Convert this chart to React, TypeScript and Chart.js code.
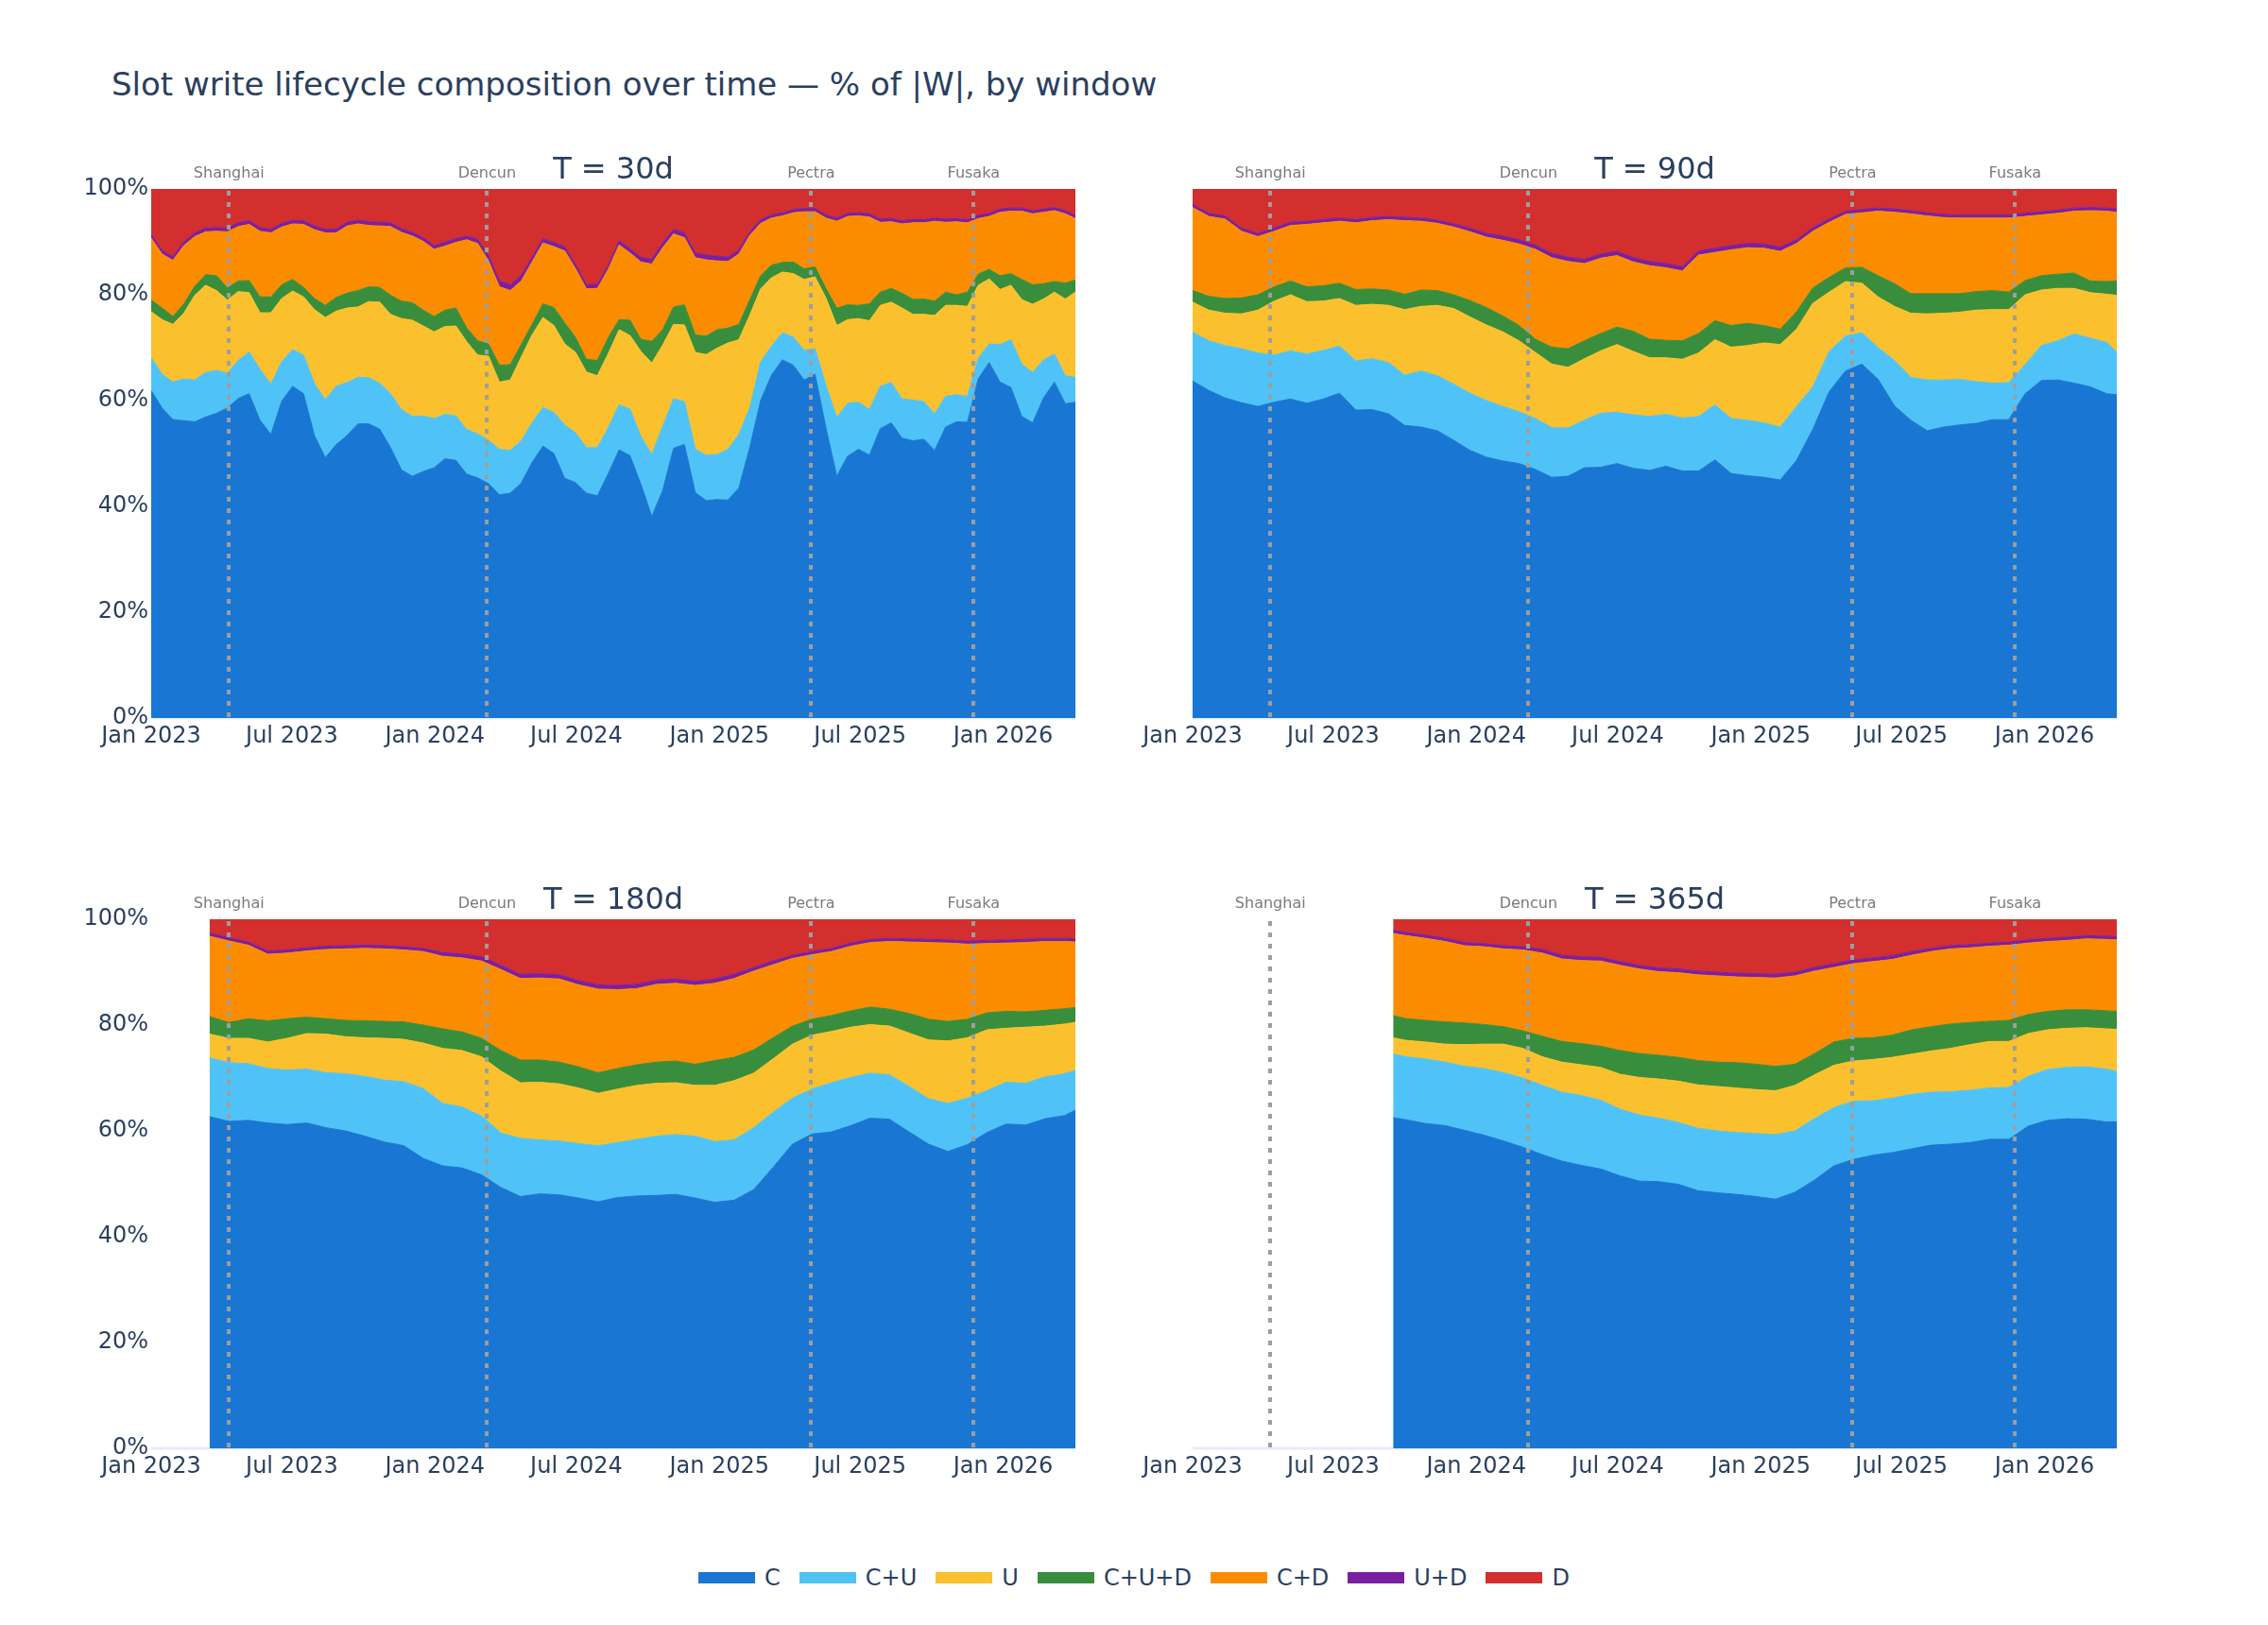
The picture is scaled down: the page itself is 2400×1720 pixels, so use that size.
import React, { useEffect, useRef } from "react";
import { Chart, registerables } from "chart.js";

Chart.register(...registerables);

const FONT = '"DejaVu Sans", sans-serif';
const TEXT = "#2a3f5f";

const SERIES = ["C", "C+U", "U", "C+U+D", "C+D", "U+D", "D"];
const COLORS = ["#1976D2", "#4FC3F7", "#FBC02D", "#388E3C", "#FB8C00", "#7B1FA2", "#D32F2F"];

// x positions are days since 2023-01-01
const X_MAX = 1189;
const TICK_DAYS = [0, 181, 365, 547, 731, 912, 1096];
const TICK_LABELS = ["Jan 2023", "Jul 2023", "Jan 2024", "Jul 2024", "Jan 2025", "Jul 2025", "Jan 2026"];
const EVENT_DAYS = [100, 432, 849, 1058];
const EVENT_NAMES = ["Shanghai", "Dencun", "Pectra", "Fusaka"];

// ---- T = 30d (shares in % of |W|) ----
const DAYS_30 = [0, 14, 28, 42, 56, 70, 84, 98, 112, 126, 140, 154, 168, 182, 196, 210, 224, 238, 252, 266, 280, 294, 308, 322, 336, 350, 364, 378, 392, 406, 420, 434, 448, 462, 476, 490, 504, 518, 532, 546, 560, 574, 588, 602, 616, 630, 644, 658, 672, 686, 700, 714, 728, 742, 756, 770, 784, 798, 812, 826, 840, 854, 868, 882, 896, 910, 924, 938, 952, 966, 980, 994, 1008, 1022, 1036, 1050, 1064, 1078, 1092, 1106, 1120, 1134, 1148, 1162, 1176, 1189];
const C_30 = [61.9, 58.6, 56.4, 56.2, 56.0, 56.9, 57.6, 58.6, 60.4, 61.3, 56.3, 53.6, 59.9, 62.7, 61.3, 53.4, 49.2, 51.7, 53.4, 55.6, 55.6, 54.6, 51.1, 46.9, 45.7, 46.6, 47.3, 49.0, 48.7, 46.1, 45.4, 44.3, 42.2, 42.5, 44.4, 48.3, 51.4, 50.0, 45.3, 44.5, 42.5, 42.0, 46.2, 50.7, 49.6, 44.2, 38.1, 43.0, 51.0, 51.7, 42.6, 41.1, 41.3, 41.2, 43.5, 51.1, 60.0, 64.8, 67.7, 66.7, 63.9, 65.0, 54.9, 45.7, 49.5, 50.8, 49.7, 54.7, 55.8, 52.9, 52.4, 52.7, 50.6, 55.0, 56.0, 55.9, 64.1, 67.2, 63.5, 62.5, 57.0, 55.8, 60.5, 63.5, 59.4, 59.7];
const CU_30 = [6.2, 6.4, 7.1, 7.9, 7.9, 8.4, 8.1, 6.6, 7.2, 7.9, 9.6, 9.5, 7.5, 6.9, 7.3, 9.8, 11.0, 11.0, 10.0, 8.8, 8.7, 8.7, 10.2, 11.4, 11.3, 10.5, 9.3, 8.4, 8.4, 8.4, 8.3, 8.2, 8.6, 8.1, 8.0, 7.5, 7.3, 7.8, 10.1, 9.4, 8.6, 9.1, 8.7, 8.5, 8.8, 9.0, 11.7, 12.1, 9.3, 8.1, 8.2, 8.6, 8.5, 9.6, 10.1, 7.5, 7.3, 5.5, 5.1, 5.3, 5.6, 4.8, 8.0, 11.1, 10.0, 8.9, 8.6, 8.0, 7.6, 7.4, 7.7, 7.1, 6.9, 5.8, 5.1, 4.9, 3.9, 3.5, 7.1, 9.0, 9.9, 9.5, 7.2, 5.3, 5.3, 4.7];
const U_30 = [8.7, 10.3, 10.9, 12.4, 16.0, 16.5, 15.1, 13.8, 13.0, 11.2, 10.7, 13.5, 11.9, 11.1, 11.0, 14.0, 15.5, 14.2, 14.1, 13.3, 14.4, 15.3, 15.0, 17.2, 18.2, 17.0, 16.4, 16.6, 17.0, 16.6, 14.9, 15.9, 12.7, 13.3, 15.8, 16.6, 17.0, 16.4, 15.3, 15.2, 14.3, 13.6, 14.0, 14.2, 13.9, 16.1, 17.3, 15.4, 14.1, 14.5, 18.3, 19.0, 20.1, 20.1, 17.9, 17.5, 13.8, 12.9, 11.5, 12.0, 13.4, 13.6, 16.5, 17.4, 15.8, 15.8, 16.8, 15.3, 15.2, 17.2, 16.2, 16.5, 18.6, 17.2, 16.9, 17.0, 13.8, 12.3, 10.4, 10.3, 12.2, 12.9, 11.5, 11.7, 14.5, 16.1];
const CUD_30 = [2.2, 2.2, 1.5, 1.8, 1.7, 2.0, 2.8, 2.3, 2.0, 2.3, 3.0, 3.0, 2.6, 2.2, 1.8, 2.1, 2.3, 2.6, 2.8, 3.1, 2.8, 2.8, 3.6, 3.3, 3.3, 3.0, 2.9, 3.1, 3.4, 2.6, 2.7, 2.3, 3.2, 2.9, 2.4, 2.0, 2.6, 3.4, 4.0, 2.8, 2.4, 2.9, 3.0, 1.9, 2.9, 2.3, 4.1, 2.9, 3.3, 3.8, 3.3, 3.5, 3.5, 2.8, 2.9, 2.9, 2.5, 2.4, 1.8, 2.2, 2.0, 1.9, 1.8, 3.3, 2.8, 2.5, 3.2, 2.5, 2.6, 2.8, 2.8, 2.9, 2.7, 2.5, 2.0, 2.7, 2.1, 1.8, 2.6, 2.2, 3.8, 3.7, 2.9, 2.0, 3.0, 2.3];
const CD_30 = [11.7, 10.2, 10.6, 11.0, 9.4, 8.1, 8.4, 10.6, 10.3, 10.6, 12.4, 12.1, 10.9, 10.5, 11.9, 13.0, 13.7, 12.2, 12.7, 12.6, 11.6, 11.6, 13.0, 13.0, 12.6, 13.0, 12.7, 12.1, 12.4, 16.7, 18.4, 15.7, 14.8, 14.0, 12.0, 11.8, 11.5, 11.5, 13.6, 13.0, 13.3, 13.6, 12.9, 14.1, 12.7, 14.6, 14.6, 15.5, 13.8, 12.7, 14.6, 14.4, 13.0, 12.6, 13.3, 12.2, 9.9, 8.9, 8.8, 9.3, 10.8, 10.4, 13.3, 16.4, 16.7, 16.9, 16.4, 13.2, 12.6, 13.1, 14.5, 14.4, 15.1, 13.2, 13.8, 13.1, 10.5, 10.0, 12.0, 11.8, 12.9, 13.4, 13.5, 13.4, 13.1, 11.6];
const UD_30 = [0.7, 0.7, 0.7, 0.7, 0.7, 0.7, 0.7, 0.7, 0.7, 0.7, 0.7, 0.7, 0.7, 0.7, 0.7, 0.7, 0.7, 0.7, 0.7, 0.7, 0.7, 0.7, 0.7, 0.7, 0.7, 0.7, 0.7, 0.7, 0.7, 0.7, 0.8, 1.0, 1.1, 1.1, 1.0, 0.9, 0.8, 0.8, 0.8, 0.8, 0.8, 0.8, 0.8, 0.8, 0.8, 0.9, 0.9, 0.9, 0.9, 0.9, 0.9, 0.9, 0.9, 0.8, 0.8, 0.7, 0.7, 0.6, 0.6, 0.6, 0.6, 0.6, 0.6, 0.6, 0.6, 0.6, 0.6, 0.6, 0.6, 0.6, 0.6, 0.6, 0.6, 0.6, 0.6, 0.6, 0.6, 0.6, 0.6, 0.6, 0.6, 0.6, 0.6, 0.6, 0.6, 0.6];
const D_30 = [8.6, 11.6, 12.8, 10.0, 8.3, 7.4, 7.3, 7.4, 6.4, 6.0, 7.3, 7.6, 6.5, 5.9, 6.0, 7.0, 7.6, 7.6, 6.3, 5.9, 6.2, 6.3, 6.4, 7.5, 8.2, 9.2, 10.7, 10.1, 9.4, 8.9, 9.5, 12.6, 17.4, 18.1, 16.4, 12.9, 9.4, 10.1, 10.9, 14.3, 18.1, 18.0, 14.4, 9.8, 11.3, 12.9, 13.3, 10.2, 7.6, 8.3, 12.1, 12.5, 12.7, 12.9, 11.5, 8.1, 5.8, 4.9, 4.5, 3.9, 3.7, 3.7, 4.9, 5.5, 4.6, 4.5, 4.7, 5.7, 5.6, 6.0, 5.8, 5.8, 5.5, 5.7, 5.6, 5.8, 5.0, 4.6, 3.8, 3.6, 3.6, 4.1, 3.8, 3.5, 4.1, 5.0];

// ---- T = 90d ----
const DAYS_90 = [0, 21, 42, 63, 84, 105, 126, 147, 168, 189, 210, 231, 252, 273, 294, 315, 336, 357, 378, 399, 420, 441, 462, 483, 504, 525, 546, 567, 588, 609, 630, 651, 672, 693, 714, 735, 756, 777, 798, 819, 840, 861, 882, 903, 924, 945, 966, 987, 1008, 1029, 1050, 1071, 1092, 1113, 1134, 1155, 1176, 1189];
const C_90 = [63.7, 61.9, 60.5, 59.6, 58.9, 59.7, 60.3, 59.5, 60.3, 61.4, 58.2, 58.3, 57.5, 55.3, 55.0, 54.3, 52.5, 50.6, 49.3, 48.6, 48.1, 47.0, 45.5, 45.7, 47.3, 47.4, 48.1, 47.2, 46.8, 47.6, 46.7, 46.7, 48.8, 46.2, 45.8, 45.5, 45.0, 48.7, 54.6, 61.7, 65.6, 66.9, 64.0, 59.0, 56.3, 54.3, 55.0, 55.4, 55.7, 56.4, 56.4, 61.3, 63.8, 63.9, 63.3, 62.6, 61.3, 61.1];
const CU_90 = [9.2, 9.4, 9.9, 10.2, 10.1, 8.9, 9.1, 9.3, 9.2, 8.9, 9.3, 9.6, 9.7, 9.5, 10.6, 10.4, 10.6, 10.8, 10.7, 10.3, 9.8, 9.6, 9.4, 9.1, 9.0, 10.2, 9.7, 10.1, 10.2, 9.8, 10.0, 10.3, 10.4, 10.4, 10.5, 10.3, 10.0, 10.2, 8.0, 7.6, 6.6, 5.9, 6.0, 8.6, 8.1, 9.6, 8.9, 8.6, 7.9, 6.9, 7.0, 5.5, 6.6, 7.4, 9.3, 9.2, 9.7, 8.0];
const U_90 = [5.7, 5.8, 6.1, 6.6, 8.1, 10.2, 10.6, 9.9, 9.3, 9.0, 10.5, 10.3, 10.8, 12.4, 12.2, 13.3, 14.3, 14.4, 14.3, 14.1, 13.4, 12.5, 12.0, 11.5, 11.6, 11.8, 12.8, 12.0, 11.1, 10.7, 11.1, 12.0, 12.3, 13.5, 14.1, 15.1, 15.6, 14.6, 15.8, 11.2, 10.3, 9.4, 9.6, 10.2, 12.1, 12.5, 12.6, 12.7, 13.5, 13.9, 13.8, 13.2, 10.5, 9.9, 8.6, 8.6, 9.1, 10.8];
const CUD_90 = [2.2, 2.6, 2.8, 3.0, 2.9, 2.7, 2.6, 2.8, 2.9, 2.9, 3.0, 2.9, 2.9, 2.9, 3.1, 2.8, 2.6, 3.1, 3.3, 3.0, 2.9, 2.5, 3.2, 3.5, 3.4, 3.3, 3.3, 3.8, 3.5, 3.3, 3.5, 3.7, 3.6, 4.1, 4.2, 3.3, 2.9, 3.3, 2.9, 2.8, 2.6, 3.0, 4.0, 4.3, 3.7, 3.8, 3.7, 3.5, 3.5, 3.6, 3.3, 2.7, 2.7, 2.7, 2.9, 2.2, 2.4, 2.7];
const CD_90 = [15.7, 15.1, 15.0, 12.6, 11.0, 10.5, 10.5, 11.8, 11.9, 11.7, 12.6, 12.9, 13.3, 13.9, 13.0, 12.7, 12.8, 13.0, 13.3, 14.3, 15.4, 17.0, 16.9, 16.5, 14.6, 14.2, 13.5, 13.1, 13.9, 13.7, 13.2, 14.8, 12.9, 14.3, 14.3, 14.6, 14.7, 12.9, 10.7, 10.4, 10.1, 10.3, 12.2, 13.5, 15.1, 14.7, 14.4, 14.3, 13.9, 13.7, 14.0, 12.1, 11.5, 11.5, 11.7, 13.3, 13.3, 13.0];
const UD_90 = [0.6, 0.6, 0.6, 0.6, 0.6, 0.6, 0.6, 0.6, 0.6, 0.6, 0.6, 0.6, 0.6, 0.6, 0.6, 0.6, 0.6, 0.7, 0.7, 0.8, 0.8, 0.8, 0.8, 0.8, 0.8, 0.8, 0.8, 0.8, 0.8, 0.8, 0.8, 0.8, 0.8, 0.8, 0.8, 0.8, 0.8, 0.7, 0.7, 0.6, 0.6, 0.6, 0.6, 0.6, 0.6, 0.6, 0.6, 0.6, 0.6, 0.6, 0.6, 0.6, 0.6, 0.6, 0.6, 0.6, 0.6, 0.6];
const D_90 = [2.9, 4.6, 5.1, 7.4, 8.4, 7.4, 6.3, 6.1, 5.8, 5.5, 5.8, 5.4, 5.2, 5.4, 5.5, 5.9, 6.6, 7.4, 8.4, 8.9, 9.6, 10.6, 12.2, 12.9, 13.3, 12.3, 11.8, 13.0, 13.7, 14.1, 14.7, 11.7, 11.2, 10.7, 10.3, 10.4, 11.0, 9.6, 7.3, 5.7, 4.2, 3.9, 3.6, 3.8, 4.1, 4.5, 4.8, 4.9, 4.9, 4.9, 4.9, 4.6, 4.3, 4.0, 3.6, 3.5, 3.6, 3.8];

// ---- T = 180d ----
const DAYS_180 = [75, 100, 125, 150, 175, 200, 225, 250, 275, 300, 325, 350, 375, 400, 425, 450, 475, 500, 525, 550, 575, 600, 625, 650, 675, 700, 725, 750, 775, 800, 825, 850, 875, 900, 925, 950, 975, 1000, 1025, 1050, 1075, 1100, 1125, 1150, 1175, 1189];
const C_180 = [62.7, 61.8, 62.0, 61.5, 61.2, 61.5, 60.6, 60.0, 59.0, 57.9, 57.2, 54.8, 53.4, 53.0, 51.7, 49.3, 47.6, 48.1, 47.9, 47.3, 46.6, 47.4, 47.7, 47.8, 48.0, 47.3, 46.5, 46.9, 48.9, 53.1, 57.5, 59.4, 59.8, 61.0, 62.4, 62.2, 59.8, 57.5, 56.1, 57.4, 59.7, 61.3, 61.1, 62.3, 62.9, 63.9];
const CU_180 = [11.1, 11.1, 10.7, 10.3, 10.3, 10.2, 10.4, 10.8, 11.3, 11.7, 12.1, 13.2, 11.8, 11.5, 11.1, 10.3, 11.0, 10.2, 10.2, 10.3, 10.6, 10.4, 10.7, 11.2, 11.3, 11.7, 11.5, 11.4, 11.7, 10.4, 8.7, 8.5, 9.3, 9.1, 8.5, 8.4, 8.6, 8.6, 9.1, 8.8, 7.9, 7.9, 7.9, 7.9, 7.9, 7.5];
const U_180 = [4.5, 4.6, 4.8, 5.0, 6.0, 6.7, 7.3, 7.0, 7.3, 7.9, 8.0, 8.6, 10.4, 10.7, 11.2, 11.7, 10.5, 10.9, 10.8, 10.5, 9.9, 10.1, 10.2, 10.0, 9.8, 9.6, 10.6, 11.2, 10.3, 10.1, 10.2, 10.2, 9.7, 9.5, 9.2, 9.2, 10.1, 11.1, 11.8, 11.4, 11.5, 10.2, 10.6, 9.6, 9.4, 9.1];
const CUD_180 = [3.3, 3.0, 3.7, 4.0, 3.7, 3.1, 2.9, 3.1, 3.2, 3.2, 3.3, 3.4, 3.7, 3.5, 3.5, 3.9, 4.3, 4.2, 4.1, 4.0, 3.9, 3.9, 3.9, 4.0, 4.1, 4.0, 4.7, 4.4, 4.4, 4.0, 3.4, 3.0, 3.0, 3.1, 3.3, 3.2, 3.7, 3.9, 3.7, 3.5, 3.2, 3.2, 2.9, 3.0, 2.9, 2.8];
const CD_180 = [15.2, 15.4, 13.9, 12.6, 12.4, 12.5, 13.1, 13.5, 13.7, 13.7, 13.6, 13.9, 13.7, 14.0, 14.6, 15.3, 15.4, 15.5, 15.7, 15.5, 15.8, 14.9, 14.4, 14.7, 14.7, 14.9, 14.6, 14.9, 14.9, 13.8, 12.8, 12.2, 12.1, 12.2, 12.2, 12.8, 13.5, 14.5, 14.8, 14.2, 13.1, 12.9, 13.1, 13.0, 12.7, 12.4];
const UD_180 = [0.6, 0.6, 0.6, 0.6, 0.6, 0.6, 0.6, 0.6, 0.6, 0.6, 0.6, 0.6, 0.7, 0.7, 0.8, 0.8, 0.8, 0.8, 0.8, 0.8, 0.8, 0.8, 0.8, 0.8, 0.8, 0.8, 0.8, 0.8, 0.7, 0.7, 0.6, 0.6, 0.6, 0.6, 0.6, 0.6, 0.6, 0.6, 0.6, 0.6, 0.6, 0.6, 0.6, 0.6, 0.6, 0.6];
const D_180 = [2.6, 3.5, 4.3, 6.0, 5.8, 5.4, 5.1, 5.0, 4.9, 5.0, 5.2, 5.5, 6.3, 6.6, 7.1, 8.7, 10.4, 10.3, 10.5, 11.6, 12.4, 12.5, 12.3, 11.5, 11.3, 11.7, 11.3, 10.4, 9.1, 7.9, 6.8, 6.1, 5.5, 4.5, 3.8, 3.6, 3.7, 3.8, 3.9, 4.1, 4.0, 3.9, 3.8, 3.6, 3.6, 3.7];

// ---- T = 365d ----
const DAYS_365 = [258, 275, 300, 325, 350, 375, 400, 425, 450, 475, 500, 525, 550, 575, 600, 625, 650, 675, 700, 725, 750, 775, 800, 825, 850, 875, 900, 925, 950, 975, 1000, 1025, 1050, 1075, 1100, 1125, 1150, 1175, 1189];
const C_365 = [62.5, 62.1, 61.4, 61.0, 60.1, 59.2, 58.1, 56.9, 55.5, 54.3, 53.5, 52.8, 51.5, 50.5, 50.4, 49.9, 48.7, 48.3, 48.0, 47.6, 47.1, 48.4, 50.7, 53.4, 54.6, 55.4, 55.9, 56.6, 57.3, 57.5, 57.8, 58.4, 58.4, 60.9, 62.0, 62.3, 62.2, 61.7, 61.7];
const CU_365 = [12.0, 11.9, 12.2, 12.0, 12.1, 12.6, 12.9, 13.1, 13.1, 13.0, 13.2, 13.0, 12.6, 12.5, 12.0, 11.7, 11.8, 11.7, 11.7, 11.9, 12.2, 11.6, 11.6, 11.0, 11.0, 10.3, 10.3, 10.3, 10.0, 9.9, 9.9, 9.7, 9.8, 9.4, 9.6, 9.7, 9.9, 10.0, 9.5];
const U_365 = [3.1, 3.1, 3.2, 3.4, 4.1, 4.6, 5.4, 5.6, 5.4, 5.7, 5.8, 6.2, 6.6, 7.1, 7.4, 7.8, 8.2, 8.4, 8.4, 8.3, 8.3, 8.6, 8.3, 8.0, 7.6, 7.8, 7.7, 7.6, 7.8, 8.2, 8.6, 8.8, 8.7, 8.1, 7.5, 7.4, 7.4, 7.6, 8.0];
const CUD_365 = [4.2, 4.1, 4.1, 4.2, 4.1, 3.7, 3.3, 3.3, 3.9, 3.9, 4.0, 4.0, 4.5, 4.5, 4.5, 4.5, 4.6, 4.6, 4.8, 4.8, 4.6, 4.0, 4.0, 4.4, 4.3, 4.1, 4.2, 4.6, 4.6, 4.6, 4.2, 3.8, 4.0, 3.6, 3.5, 3.5, 3.4, 3.4, 3.4];
const CD_365 = [15.5, 15.7, 15.5, 15.2, 14.6, 14.7, 14.7, 15.3, 15.7, 15.6, 15.7, 16.1, 16.1, 16.0, 15.8, 16.0, 16.2, 16.3, 16.2, 16.4, 16.7, 16.7, 15.6, 14.1, 14.1, 14.4, 14.3, 14.1, 14.2, 14.2, 14.1, 14.2, 14.2, 13.5, 13.2, 13.1, 13.4, 13.5, 13.5];
const UD_365 = [0.6, 0.6, 0.6, 0.6, 0.6, 0.6, 0.6, 0.6, 0.7, 0.7, 0.7, 0.7, 0.7, 0.7, 0.7, 0.7, 0.7, 0.7, 0.7, 0.7, 0.7, 0.7, 0.7, 0.7, 0.7, 0.7, 0.7, 0.7, 0.6, 0.6, 0.6, 0.6, 0.6, 0.6, 0.6, 0.6, 0.6, 0.6, 0.6];
const D_365 = [2.1, 2.5, 3.0, 3.6, 4.4, 4.6, 5.0, 5.2, 5.7, 6.8, 7.1, 7.2, 8.0, 8.7, 9.2, 9.4, 9.8, 10.0, 10.2, 10.3, 10.4, 10.0, 9.1, 8.4, 7.7, 7.3, 6.9, 6.1, 5.5, 5.0, 4.8, 4.5, 4.3, 3.9, 3.6, 3.4, 3.1, 3.2, 3.3];

// panel geometry (page pixels)
const PLOT_W = 978;
const PLOT_H = 560;
const AXIS_W = 110;
const AXIS_H = 50;
const PAD_TOP = 90;
const PAD_RIGHT = 30;
const CANVAS_W = AXIS_W + PLOT_W + PAD_RIGHT;
const CANVAS_H = PAD_TOP + PLOT_H + AXIS_H;

type PanelProps = {
  left: number;
  top: number;
  title: string;
  days: number[];
  series: number[][];
  showY: boolean;
};

function Panel({ left, top, title, days, series, showY }: PanelProps) {
  const ref = useRef<HTMLCanvasElement>(null);

  useEffect(() => {
    const canvas = ref.current;
    if (!canvas) return;

    const datasets = series.map((vals, i) => ({
      label: SERIES[i],
      data: vals.map((v, j) => ({ x: days[j], y: v })),
      backgroundColor: COLORS[i],
      borderColor: COLORS[i],
      borderWidth: 1,
      pointRadius: 0,
      pointHoverRadius: 0,
      tension: 0,
      fill: i === 0 ? "origin" : "-1",
    }));

    const decor = {
      id: "panelDecor",
      beforeDatasetsDraw(chart: any) {
        const { ctx, chartArea: a } = chart;
        ctx.save();
        ctx.strokeStyle = "#E6ECF5";
        ctx.lineWidth = 3;
        ctx.beginPath();
        ctx.moveTo(a.left, a.bottom);
        ctx.lineTo(a.right, a.bottom);
        ctx.stroke();
        ctx.restore();
      },
      afterDatasetsDraw(chart: any) {
        const { ctx, chartArea: a, scales } = chart;
        ctx.save();
        ctx.strokeStyle = "#9e9e9e";
        ctx.lineWidth = 4;
        ctx.setLineDash([5, 7]);
        EVENT_DAYS.forEach((d) => {
          const x = Math.round(scales.x.getPixelForValue(d));
          ctx.beginPath();
          ctx.moveTo(x, a.top + 2);
          ctx.lineTo(x, a.bottom);
          ctx.stroke();
        });
        ctx.restore();
      },
      afterDraw(chart: any) {
        const { ctx, chartArea: a, scales } = chart;
        ctx.save();
        ctx.textAlign = "center";
        ctx.textBaseline = "middle";
        ctx.fillStyle = "#7a7a7a";
        ctx.font = `16px ${FONT}`;
        EVENT_DAYS.forEach((d, i) => {
          const x = scales.x.getPixelForValue(d);
          ctx.fillText(EVENT_NAMES[i], x, a.top - 16);
        });
        ctx.fillStyle = TEXT;
        ctx.font = `32px ${FONT}`;
        ctx.fillText(title, (a.left + a.right) / 2, a.top - 19);
        ctx.restore();
      },
    };

    const chart = new Chart(canvas, {
      type: "line",
      data: { datasets: datasets as any },
      options: {
        responsive: false,
        animation: false,
        devicePixelRatio: 1,
        events: [],
        layout: { padding: { top: PAD_TOP, right: PAD_RIGHT, left: 0, bottom: 0 } },
        plugins: {
          legend: { display: false },
          tooltip: { enabled: false },
        },
        scales: {
          x: {
            type: "linear",
            min: 0,
            max: X_MAX,
            grid: { display: false, drawTicks: false },
            border: { display: false },
            afterBuildTicks: (s: any) => {
              s.ticks = TICK_DAYS.map((v) => ({ value: v }));
            },
            afterFit: (s: any) => {
              s.height = AXIS_H;
            },
            ticks: {
              autoSkip: false,
              maxRotation: 0,
              minRotation: 0,
              padding: 5,
              color: TEXT,
              font: { family: FONT, size: 24 },
              callback: (_v: any, i: number) => TICK_LABELS[i],
            },
          },
          y: {
            stacked: true,
            min: 0,
            max: 100,
            grid: { display: false, drawTicks: false },
            border: { display: false },
            afterFit: (s: any) => {
              s.width = AXIS_W;
            },
            ticks: {
              display: showY,
              stepSize: 20,
              padding: 3,
              color: TEXT,
              font: { family: FONT, size: 24 },
              callback: (v: any) => `${v}%`,
            },
          },
        },
      } as any,
      plugins: [decor],
    });

    return () => chart.destroy();
  }, []);

  return (
    <canvas
      ref={ref}
      width={CANVAS_W}
      height={CANVAS_H}
      style={{
        position: "absolute",
        left: left - AXIS_W,
        top: top - PAD_TOP,
        width: CANVAS_W,
        height: CANVAS_H,
      }}
    />
  );
}

const PANELS: PanelProps[] = [
  { left: 160, top: 200, title: "T = 30d", days: DAYS_30, series: [C_30, CU_30, U_30, CUD_30, CD_30, UD_30, D_30], showY: true },
  { left: 1262, top: 200, title: "T = 90d", days: DAYS_90, series: [C_90, CU_90, U_90, CUD_90, CD_90, UD_90, D_90], showY: false },
  { left: 160, top: 973, title: "T = 180d", days: DAYS_180, series: [C_180, CU_180, U_180, CUD_180, CD_180, UD_180, D_180], showY: true },
  { left: 1262, top: 973, title: "T = 365d", days: DAYS_365, series: [C_365, CU_365, U_365, CUD_365, CD_365, UD_365, D_365], showY: false },
];

export default function App() {
  return (
    <div style={{ position: "absolute", left: 0, top: 0, width: 2400, height: 1720, background: "#fff" }}>
      <div
        style={{
          position: "absolute",
          left: 118,
          top: 69,
          fontFamily: FONT,
          fontSize: 34,
          lineHeight: "40px",
          color: TEXT,
          whiteSpace: "nowrap",
        }}
      >
        Slot write lifecycle composition over time — % of |W|, by window
      </div>

      {PANELS.map((p) => (
        <Panel key={p.title} {...p} />
      ))}

      <div
        style={{
          position: "absolute",
          left: 0,
          top: 1655,
          width: 2400,
          height: 30,
          display: "flex",
          justifyContent: "center",
          alignItems: "center",
          fontFamily: FONT,
          fontSize: 24,
          color: TEXT,
        }}
      >
        {SERIES.map((s, i) => (
          <div key={s} style={{ display: "flex", alignItems: "center", marginRight: i < SERIES.length - 1 ? 20 : 0 }}>
            <span style={{ display: "inline-block", width: 60, height: 12, background: COLORS[i], marginRight: 10 }} />
            <span style={{ lineHeight: "30px" }}>{s}</span>
          </div>
        ))}
      </div>
    </div>
  );
}
